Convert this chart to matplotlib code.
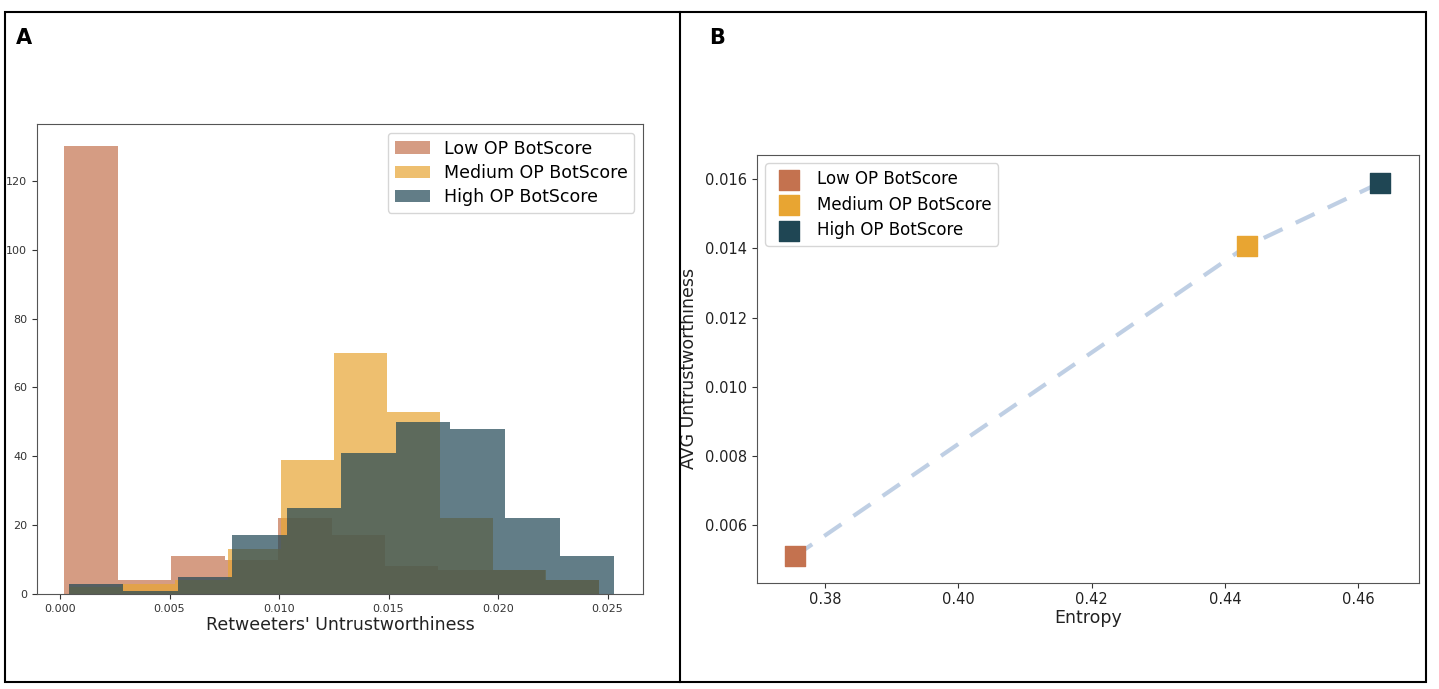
import numpy as np
import matplotlib
matplotlib.use('Agg')
import matplotlib.pyplot as plt
from matplotlib.patches import Rectangle
from matplotlib.lines import Line2D

# Panel A: histogram counts per bin (10 bins each)
labels = ['Low OP BotScore', 'Medium OP BotScore', 'High OP BotScore']
colors = ['#c4724f', '#e8a532', '#1f4654']

low_range = (0.0002, 0.0246)
low_counts = [130, 4, 11, 10, 22, 17, 8, 7, 7, 4]
medium_range = (0.0004, 0.0246)
medium_counts = [2, 3, 4, 13, 39, 70, 53, 22, 7, 4]
high_range = (0.0004, 0.0253)
high_counts = [3, 1, 5, 17, 25, 41, 50, 48, 22, 11]

# Panel B: entropy vs average untrustworthiness
entropy = [0.3755, 0.4433, 0.4633]
avg_untrust = [0.0051, 0.01407, 0.0159]

W, H = 1439, 689
fig = plt.figure(figsize=(W / 100, H / 100), dpi=100)

# outer frame and divider
fig.add_artist(Rectangle((5 / W, 1 - 682 / H), 1421 / W, 670 / H, transform=fig.transFigure,
                         fill=False, edgecolor='black', linewidth=1.5))
fig.add_artist(Line2D([680 / W, 680 / W], [1 - 682 / H, 1 - 12 / H], transform=fig.transFigure,
                      color='black', linewidth=1.5))
fig.text(16 / W, 1 - 44 / H, 'A', fontsize=15, fontweight='bold')
fig.text(709 / W, 1 - 44 / H, 'B', fontsize=15, fontweight='bold')

# Panel A
ax1 = fig.add_axes([37 / W, 1 - 594 / H, 606 / W, 470 / H])
for rng, counts, c, lab in zip([low_range, medium_range, high_range],
                               [low_counts, medium_counts, high_counts], colors, labels):
    edges = np.linspace(rng[0], rng[1], len(counts) + 1)
    ax1.hist(edges[:-1], bins=edges, weights=counts, color=c, alpha=0.7, label=lab)
ax1.set_xlim(-0.00105, 0.02662)
ax1.set_xticks([0.0, 0.005, 0.010, 0.015, 0.020, 0.025])
ax1.set_xticklabels(['0.000', '0.005', '0.010', '0.015', '0.020', '0.025'])
ax1.set_yticks([0, 20, 40, 60, 80, 100, 120])
ax1.tick_params(labelsize=8, colors='#333333', labelcolor='#333333')
ax1.set_xlabel("Retweeters' Untrustworthiness", fontsize=12.5, color='#222222', labelpad=2)
for s in ax1.spines.values():
    s.set_color('#555555')
ax1.legend(loc='upper right', fontsize=12.5, handlelength=2.0, borderpad=0.4,
           labelspacing=0.35, handletextpad=0.8)

# Panel B
ax2 = fig.add_axes([757 / W, 1 - 582.7 / H, 662 / W, 427.7 / H])
ax2.plot(entropy, avg_untrust, linestyle=(0, (5, 3.5)), color='#b0c4de', alpha=0.8,
         linewidth=3, zorder=1)
for x, y, c, lab in zip(entropy, avg_untrust, colors, labels):
    ax2.scatter([x], [y], marker='s', s=190, color=c, label=lab, zorder=2)
ax2.set_xlim(0.3698, 0.4691)
ax2.set_ylim(0.00433, 0.0167)
ax2.set_xticks([0.38, 0.40, 0.42, 0.44, 0.46])
ax2.set_yticks([0.006, 0.008, 0.010, 0.012, 0.014, 0.016])
ax2.tick_params(labelsize=10.5, colors='#333333', labelcolor='#222222')
ax2.set_xlabel('Entropy', fontsize=12.5, color='#222222', labelpad=1)
ax2.set_ylabel('AVG Untrustworthiness', fontsize=12.5, color='#222222', labelpad=5)
for s in ax2.spines.values():
    s.set_color('#555555')
ax2.legend(loc='upper left', fontsize=12, scatterpoints=1, borderpad=0.4,
           labelspacing=0.45, handletextpad=0.7)

fig.savefig('out.png', dpi=100)
